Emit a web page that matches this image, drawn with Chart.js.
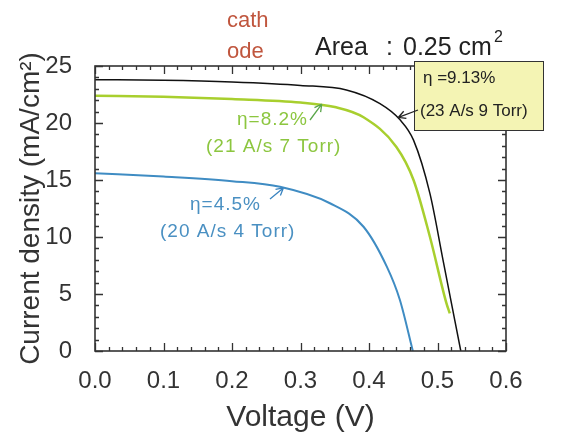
<!DOCTYPE html>
<html>
<head>
<meta charset="utf-8">
<script src="https://cdn.jsdelivr.net/npm/chart.js@4"></script>
<style>
  html, body { margin: 0; padding: 0; background: #fff; }
  #wrap { width: 574px; height: 436px; }
</style>
</head>
<body>
<div id="wrap"><canvas id="iv"></canvas></div>
<script>
// J-V curves (V in volts, J in mA/cm2)
const blackV = [0, 0.1, 0.2, 0.3, 0.367, 0.416, 0.445, 0.465, 0.489, 0.508, 0.534];
const blackJ = [23.8, 23.75, 23.6, 23.3, 22.9, 21.7, 20.3, 18.5, 13.8, 8.0, 0];

const greenV = [0, 0.1, 0.2, 0.3, 0.35, 0.392, 0.44, 0.465, 0.489, 0.513, 0.518];
const greenJ = [22.4, 22.3, 22.1, 21.8, 21.4, 20.5, 17.9, 15.0, 10.0, 4.2, 3.3];

const blueV = [0, 0.1, 0.2, 0.27, 0.343, 0.392, 0.426, 0.445, 0.464];
const blueJ = [15.6, 15.3, 14.9, 14.4, 12.96, 10.9, 7.4, 4.5, 0];

const xTicks = [0, 0.1, 0.2, 0.3, 0.4, 0.5, 0.6];
const yTicks = [0, 5, 10, 15, 20, 25];

const toPts = (xs, ys) => xs.map((x, i) => ({x: x, y: ys[i]}));
const FONT = '"Liberation Sans", Arial, sans-serif';

function arrow(ctx, x1, y1, x2, y2, color) {
  const ang = Math.atan2(y2 - y1, x2 - x1);
  ctx.strokeStyle = color;
  ctx.lineWidth = 1.3;
  ctx.beginPath();
  ctx.moveTo(x1, y1); ctx.lineTo(x2, y2);
  ctx.moveTo(x2, y2); ctx.lineTo(x2 - 8 * Math.cos(ang - 0.5), y2 - 8 * Math.sin(ang - 0.5));
  ctx.moveTo(x2, y2); ctx.lineTo(x2 - 8 * Math.cos(ang + 0.5), y2 - 8 * Math.sin(ang + 0.5));
  ctx.stroke();
}

// frame with inward ticks, labels, yellow box and arrows
const notes = {
  id: 'notes',
  afterDraw(chart) {
    const ctx = chart.ctx;
    const a = chart.chartArea;
    const x = chart.scales.x, y = chart.scales.y;
    const X = v => x.getPixelForValue(v), Y = v => y.getPixelForValue(v);
    ctx.save();

    ctx.strokeStyle = '#333';
    ctx.lineWidth = 1.3;
    ctx.beginPath();
    for (let i = 0; i <= 30; i++) {
      const px = Math.round(X(i * 0.02)) + 0.5;
      const len = (i % 5 === 0) ? 8 : 4;
      ctx.moveTo(px, a.bottom); ctx.lineTo(px, a.bottom - len);
      ctx.moveTo(px, a.top); ctx.lineTo(px, a.top + len);
    }
    for (let j = 0; j <= 25; j++) {
      const py = Math.round(Y(j)) + 0.5;
      const len = (j % 5 === 0) ? 8 : 4;
      ctx.moveTo(a.left, py); ctx.lineTo(a.left + len, py);
      ctx.moveTo(a.right, py); ctx.lineTo(a.right - len, py);
    }
    ctx.stroke();
    ctx.lineWidth = 1.6;
    ctx.strokeRect(a.left, a.top, a.right - a.left, a.bottom - a.top);

    ctx.textBaseline = 'alphabetic';
    ctx.textAlign = 'left';

    ctx.font = '22px ' + FONT;
    ctx.fillStyle = '#c0563e';
    ctx.fillText('cath', 227, 27);
    ctx.fillText('ode', 227, 58);

    ctx.font = '25px ' + FONT;
    ctx.fillStyle = '#222';
    ctx.fillText('Area', 315, 55);
    ctx.fillText(':', 386, 55);
    ctx.fillText('0.25 cm', 403, 55);
    const w = ctx.measureText('0.25 cm').width;
    ctx.font = '16px ' + FONT;
    ctx.fillText('2', 403 + w + 2, 42);

    // yellow box
    ctx.fillStyle = '#f4f4b4';
    ctx.fillRect(414, 61, 129, 69);
    ctx.strokeStyle = '#333';
    ctx.lineWidth = 1;
    ctx.strokeRect(414.5, 61.5, 129, 69);
    ctx.fillStyle = '#222';
    ctx.font = '17px ' + FONT;
    ctx.fillText('\u03b7 =9.13%', 423, 83);
    ctx.fillText('(23 A/s 9 Torr)', 420, 116);
    arrow(ctx, 418, 110, X(0.443), Y(20.5), '#222');

    // green
    ctx.font = '19px ' + FONT;
    ctx.letterSpacing = '1px';
    ctx.fillStyle = '#8cc63f';
    ctx.fillText('\u03b7=8.2%', 237, 125);
    ctx.fillText('(21 A/s 7 Torr)', 206, 152);
    arrow(ctx, 310, 120, X(0.331), Y(21.65), '#5aa64a');

    // blue
    ctx.fillStyle = '#4a90c2';
    ctx.fillText('\u03b7=4.5%', 190, 210);
    ctx.fillText('(20 A/s 4 Torr)', 160, 237);
    arrow(ctx, 270, 199, X(0.275), Y(14.3), '#3a84c0');
    ctx.restore();
  }
};

const labelFont = {family: FONT, size: 24};

new Chart(document.getElementById('iv'), {
  type: 'line',
  data: {
    datasets: [
      {data: toPts(blackV, blackJ), borderColor: '#111', borderWidth: 1.5},
      {data: toPts(greenV, greenJ), borderColor: '#a8cf2e', borderWidth: 2.5},
      {data: toPts(blueV, blueJ), borderColor: '#3f8cc3', borderWidth: 2}
    ]
  },
  options: {
    responsive: true,
    maintainAspectRatio: false,
    animation: false,
    layout: {padding: {top: 66, right: 68, left: 0, bottom: 0}},
    elements: {
      point: {radius: 0},
      line: {cubicInterpolationMode: 'monotone'}
    },
    plugins: {legend: {display: false}, tooltip: {enabled: false}},
    scales: {
      x: {
        type: 'linear', min: 0, max: 0.6,
        afterBuildTicks: s => { s.ticks = xTicks.map(v => ({value: v})); },
        afterFit: s => { s.height = 85; },
        grid: {display: false},
        border: {display: false},
        ticks: {color: '#333', font: labelFont, padding: 8, callback: v => v.toFixed(1)},
        title: {display: true, text: 'Voltage (V)', color: '#333', font: {family: FONT, size: 30}, padding: {top: 0, bottom: 0}}
      },
      y: {
        min: 0, max: 25,
        afterBuildTicks: s => { s.ticks = yTicks.map(v => ({value: v})); },
        afterFit: s => { s.width = 95; },
        grid: {display: false},
        border: {display: false},
        ticks: {color: '#333', font: labelFont, padding: 15},
        title: {display: true, text: 'Current density (mA/cm\u00b2)', color: '#333', font: {family: FONT, size: 28}, padding: {top: 14, bottom: 0}}
      }
    }
  },
  plugins: [notes]
});
</script>
</body>
</html>
